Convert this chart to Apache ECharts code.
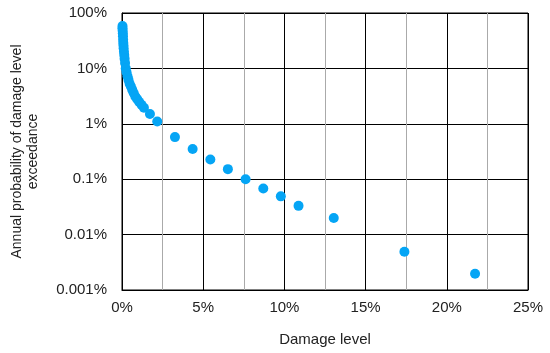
<!DOCTYPE html>
<html>
<head>
<meta charset="utf-8">
<script src="https://cdn.jsdelivr.net/npm/echarts@6/dist/echarts.min.js"></script>
<style>html,body{margin:0;padding:0;background:#fff}#c{width:550px;height:353px}</style>
</head>
<body>
<div id="c"></div>
<script>
// Damage level (%) and annual exceedance probability (%)
var damageLevel = [0.03,0.03,0.04,0.05,0.06,0.07,0.08,0.09,0.1,0.12,0.14,0.16,0.19,0.23,0.28,0.34,0.4,0.47,0.55,0.63,0.72,0.82,0.93,1.05,1.2,1.35,1.72,2.17,3.26,4.35,5.44,6.52,7.61,8.7,9.78,10.87,13.04,17.39,21.74];
var exceedance = [58,53,48,43,38,33,29,26,23,20,17.5,15,12.5,10,8.5,7.2,6.2,5.3,4.7,4.1,3.6,3.1,2.8,2.5,2.2,1.95,1.5,1.1,0.575,0.35,0.227,0.152,0.1,0.068,0.049,0.033,0.02,0.0049,0.00196];
var xTicks = [0,5,10,15,20,25];
var yTickLabels = {'0.001':'0.001%','0.01':'0.01%','0.1':'0.1%','1':'1%','10':'10%','100':'100%'};

var pts = damageLevel.map(function(d,i){return [d, exceedance[i]];});
var font = 'Liberation Sans';
var chart = echarts.init(document.getElementById('c'));
chart.setOption({
  animation:false,
  grid:{left:122,right:22,top:13,bottom:63,show:true,borderColor:'#000',borderWidth:1,backgroundColor:'#fff',outerBoundsMode:'none',containLabel:false},
  xAxis:{
    type:'value',min:xTicks[0],max:xTicks[xTicks.length-1],interval:5,
    name:'Damage level',nameLocation:'middle',nameGap:42,
    nameTextStyle:{fontFamily:font,fontSize:15,color:'#222'},
    axisLine:{show:true,lineStyle:{color:'#000'}},
    axisTick:{show:false},
    axisLabel:{fontFamily:font,fontSize:15,color:'#222',margin:10,formatter:function(v){return v+'%';}},
    splitLine:{show:true,lineStyle:{color:'#000',width:1}},
    minorTick:{show:false,splitNumber:2},
    minorSplitLine:{show:true,lineStyle:{color:'#aaa',width:1}}
  },
  yAxis:{
    type:'log',logBase:10,min:0.001,max:100,
    name:'Annual probability of damage level\nexceedance',nameLocation:'middle',nameGap:81,
    nameTextStyle:{fontFamily:font,fontSize:14,color:'#222',lineHeight:16},
    axisLine:{show:true,lineStyle:{color:'#000'}},
    axisTick:{show:false},
    axisLabel:{fontFamily:font,fontSize:15,color:'#222',margin:15,formatter:function(v){
      var k = String(parseFloat(Number(v).toPrecision(3)));
      return yTickLabels[k] !== undefined ? yTickLabels[k] : k+'%';
    }},
    splitLine:{show:true,lineStyle:{color:'#000',width:1}}
  },
  series:[{
    type:'scatter',data:pts,symbolSize:10,
    itemStyle:{color:'#05a5f5',opacity:1}
  }]
});
</script>
</body>
</html>
